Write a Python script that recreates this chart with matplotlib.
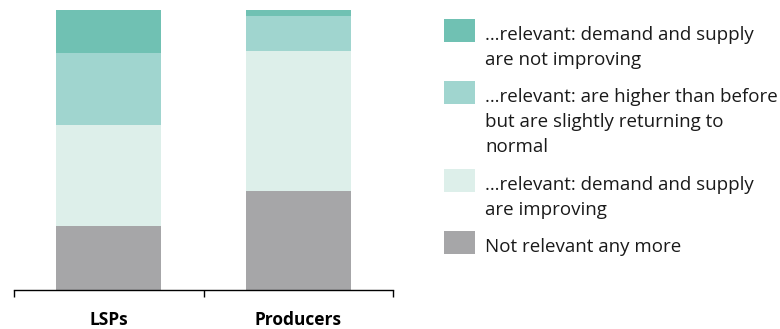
# plot.py
# Stacked share of answers for LSPs and Producers, legend drawn on the right.

import matplotlib.pyplot as plt
from matplotlib.patches import Rectangle

plt.rcParams['font.family'] = ['Open Sans', 'DejaVu Sans']

categories = ['LSPs', 'Producers']

# series from bottom to top (percent of respondents)
not_relevant = [22.7, 35.2]
improving = [36.1, 50.3]
higher_returning = [25.8, 12.5]
not_improving = [15.4, 2.0]

series_labels = [
    'Not relevant any more',
    '…relevant: demand and supply\nare improving',
    '…relevant: are higher than before\nbut are slightly returning to\nnormal',
    '…relevant: demand and supply\nare not improving',
]
series_colors = ['#a6a6a8', '#ddefea', '#a0d5cf', '#70c1b3']

fig = plt.figure(figsize=(7.8, 3.29), dpi=100)
axis = fig.add_axes([14 / 780, 39 / 329, 379 / 780, 280 / 329])

series_values = [not_relevant, improving, higher_returning, not_improving]
positions = list(range(len(categories)))
bottom = [0.0] * len(categories)
for values, color in zip(series_values, series_colors):
    axis.bar(positions, values, bottom=bottom, width=0.554, color=color,
             edgecolor='none', zorder=2)
    bottom = [b + v for b, v in zip(bottom, values)]

axis.set_xlim(-0.5, len(categories) - 0.5)
axis.set_ylim(0, 100)
axis.set_yticks([])
for side in ['left', 'right', 'top']:
    axis.spines[side].set_visible(False)
axis.spines['bottom'].set_color('black')
axis.spines['bottom'].set_linewidth(1.0)

# separator ticks between the categories
axis.set_xticks([p - 0.5 for p in positions] + [positions[-1] + 0.5])
axis.set_xticklabels([])
axis.tick_params(axis='x', which='major', direction='out', length=5,
                 width=1.0, color='black')
axis.set_xticks(positions, minor=True)
axis.set_xticklabels(categories, minor=True, fontweight='bold', fontsize=12.5)
axis.tick_params(axis='x', which='minor', length=0, pad=15)

# legend, top entry first, patch aligned to the first text line
entry_tops = [231, 169, 81, 19]
for label, color, top in zip(series_labels, series_colors, entry_tops):
    fig.patches.append(Rectangle(
        (444 / 780, 1 - (top + 23) / 329), 31 / 780, 23 / 329,
        transform=fig.transFigure, facecolor=color, edgecolor='none'))
    fig.text(485 / 780, 1 - (top + 7) / 329, label, ha='left', va='top',
             fontsize=13.5, linespacing=1.49, color='#1a1a1a')

fig.savefig('out.png', dpi=100)
plt.close(fig)
